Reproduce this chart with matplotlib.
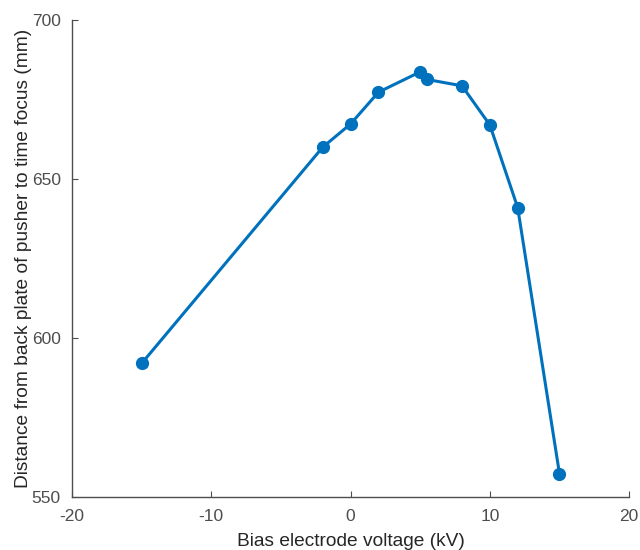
import matplotlib
matplotlib.use("Agg")
import matplotlib.pyplot as plt

voltage = [-15, -2, 0, 2, 5, 5.5, 8, 10, 12, 15]
distance = [592, 660, 667.3, 677.3, 683.7, 681.3, 679.3, 667, 641, 557.3]
xticks = [-20, -10, 0, 10, 20]
yticks = [550, 600, 650, 700]

plt.rcParams['font.family'] = ['Liberation Sans', 'DejaVu Sans']
plt.rcParams['axes.unicode_minus'] = False
gray = '#4d4d4d'

fig = plt.figure(figsize=(6.4, 5.5), dpi=100)
ax = fig.add_axes([0.1125, 0.0964, 0.8705, 0.8672])
ax.plot(voltage, distance, color='#0072BD', lw=2.2, marker='o', ms=8.5)
ax.set_xlim(-20, 20)
ax.set_ylim(550, 700)
ax.set_xticks(xticks)
ax.set_yticks(yticks)
for s in ['top', 'right']:
    ax.spines[s].set_visible(False)
for s in ['left', 'bottom']:
    ax.spines[s].set_color(gray)
    ax.spines[s].set_linewidth(1.0)
ax.tick_params(direction='in', colors=gray, labelsize=12.5, length=4)
ax.tick_params(axis='x', pad=9)
ax.tick_params(axis='y', pad=8)
ax.set_xlabel('Bias electrode voltage (kV)', fontsize=13.8, color='#262626', labelpad=6)
ax.set_ylabel('Distance from back plate of pusher to time focus (mm)', fontsize=13.8, color='#262626', labelpad=0)
fig.savefig('out.png', dpi=100)
